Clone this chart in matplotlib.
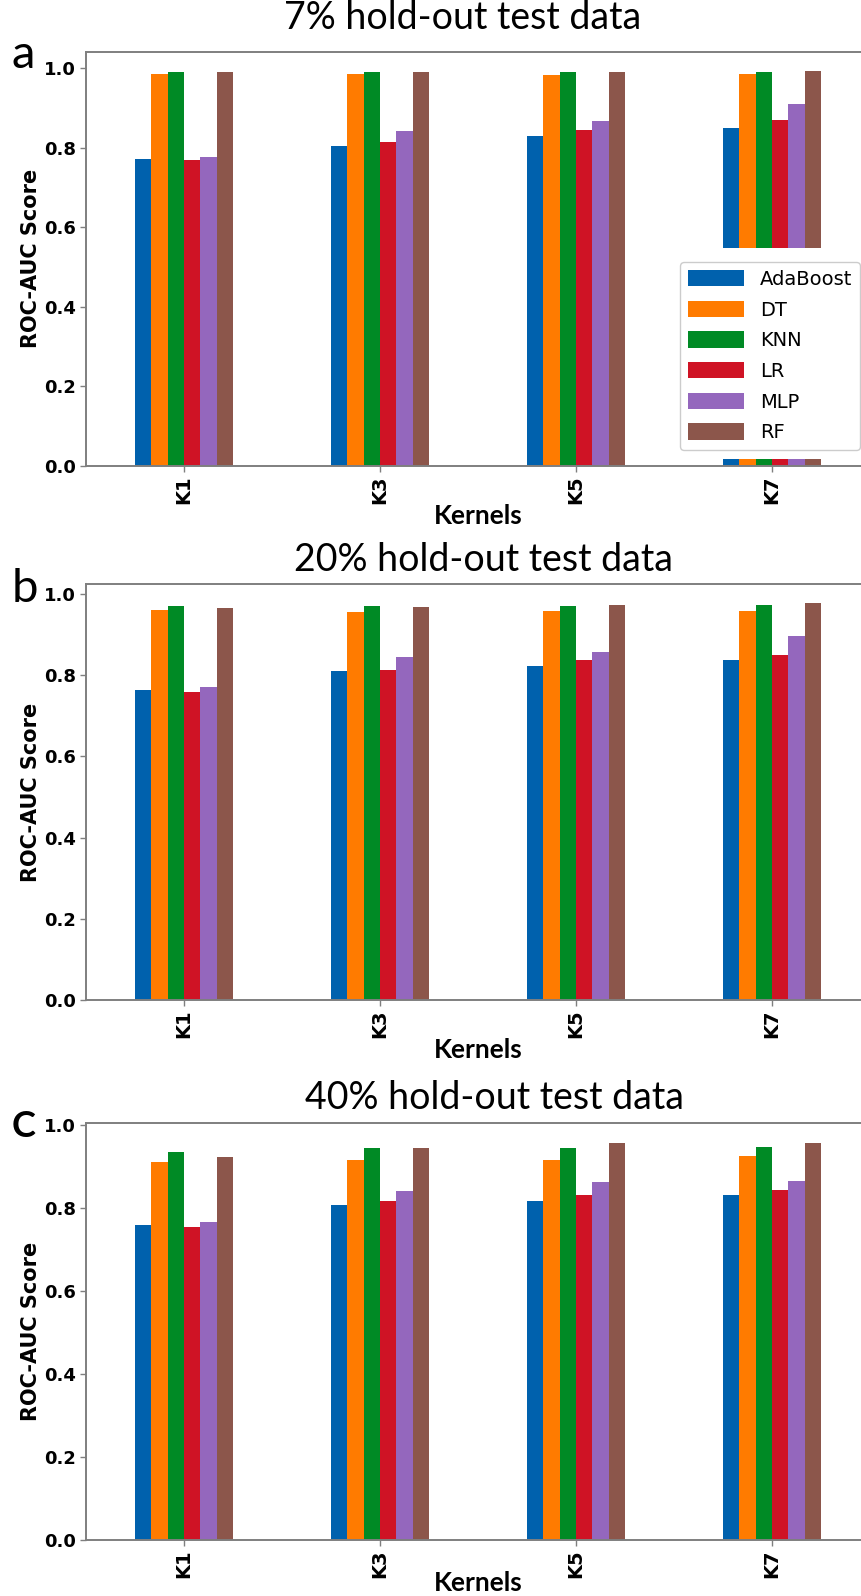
import numpy as np
import matplotlib
matplotlib.use("Agg")
import matplotlib.pyplot as plt
from matplotlib.patches import Rectangle

# data
kernels = ["K1", "K3", "K5", "K7"]
models = ["AdaBoost", "DT", "KNN", "LR", "MLP", "RF"]
colors = ["#0061ad", "#ff7b00", "#008a25", "#cf1325", "#9467bd", "#8c564b"]

# rows = kernels, columns = models
auc_7 = [
    [0.771, 0.987, 0.992, 0.769, 0.778, 0.991],
    [0.805, 0.985, 0.992, 0.815, 0.842, 0.992],
    [0.830, 0.984, 0.992, 0.844, 0.867, 0.992],
    [0.849, 0.985, 0.992, 0.871, 0.910, 0.993],
]
auc_20 = [
    [0.763, 0.962, 0.971, 0.759, 0.770, 0.965],
    [0.811, 0.957, 0.972, 0.812, 0.844, 0.969],
    [0.823, 0.958, 0.971, 0.837, 0.858, 0.974],
    [0.837, 0.958, 0.974, 0.849, 0.897, 0.977],
]
auc_40 = [
    [0.758, 0.912, 0.936, 0.754, 0.767, 0.923],
    [0.807, 0.916, 0.945, 0.818, 0.840, 0.945],
    [0.818, 0.917, 0.945, 0.831, 0.864, 0.956],
    [0.832, 0.926, 0.946, 0.843, 0.866, 0.957],
]

titles = ["7% hold-out test data", "20% hold-out test data", "40% hold-out test data"]
letters = ["a", "b", "C"]
datasets = [auc_7, auc_20, auc_40]

W, H = 862, 1596
fig = plt.figure(figsize=(W / 100, H / 100), dpi=100)

# axes boxes in pixels: top, bottom, ylim top
boxes = [(51.7, 465.7, 1.042), (584, 1000, 1.025), (1123, 1540, 1.005)]
title_x = [463, 484, 495]
title_y = [18, 560, 1098]
letter_base = [68, 602, 1137]
xlabel_pad = [0, 0, -5]

axes_color = "#7f7f7f"
x = np.arange(len(kernels))
bw = 0.5 / len(models)

for i, data in enumerate(datasets):
    top, bottom, ytop = boxes[i]
    ax = fig.add_axes([86 / W, 1 - bottom / H, 784 / W, (bottom - top) / H])
    vals = np.array(data)
    for j, m in enumerate(models):
        ax.bar(x - 0.25 + bw * (j + 0.5), vals[:, j], width=bw,
               color=colors[j], label=m, zorder=2)
    ax.set_xlim(-0.5, 3.5)
    ax.set_ylim(0, ytop)
    ax.set_yticks([0, 0.2, 0.4, 0.6, 0.8, 1.0])
    ax.set_yticklabels(["0.0", "0.2", "0.4", "0.6", "0.8", "1.0"],
                       fontsize=13, fontweight="bold", family="DejaVu Sans")
    ax.set_xticks(x)
    ax.set_xticklabels(kernels, rotation=90, fontsize=14, fontweight="bold",
                       family="DejaVu Sans")
    for s in ax.spines.values():
        s.set_color(axes_color)
        s.set_linewidth(1.4)
    ax.tick_params(colors="black", length=4, width=1, pad=3)
    ax.tick_params(axis="both", color=axes_color)
    ax.set_ylabel("ROC-AUC Score", fontsize=15, fontweight="bold",
                  family="DejaVu Sans", labelpad=2)
    ax.set_xlabel("Kernels", fontsize=19, fontweight="bold", family="Lato",
                  labelpad=xlabel_pad[i])

    fig.text(title_x[i] / W, 1 - title_y[i] / H, titles[i], fontsize=27,
             family="Lato", ha="center", va="center")
    fig.text(12 / W, 1 - letter_base[i] / H, letters[i],
             fontsize=34 if i < 2 else 26, family="Lato",
             fontweight="normal" if i < 2 else "bold",
             ha="left", va="baseline")

    if i == 0:
        # white block behind the legend, as in the reference
        ax.add_patch(Rectangle((2.57, 0.017), 1.1, 0.531, facecolor="white",
                               edgecolor="none", zorder=3))
        leg = ax.legend(loc="lower right", bbox_to_anchor=(0.987, 0.038),
                        borderaxespad=0, prop={"family": "DejaVu Sans", "size": 14},
                        handlelength=2.9, handleheight=0.9, labelspacing=0.6,
                        framealpha=1, edgecolor="#cccccc", fancybox=True)
        leg.set_zorder(5)

fig.savefig("out.png", dpi=100)
